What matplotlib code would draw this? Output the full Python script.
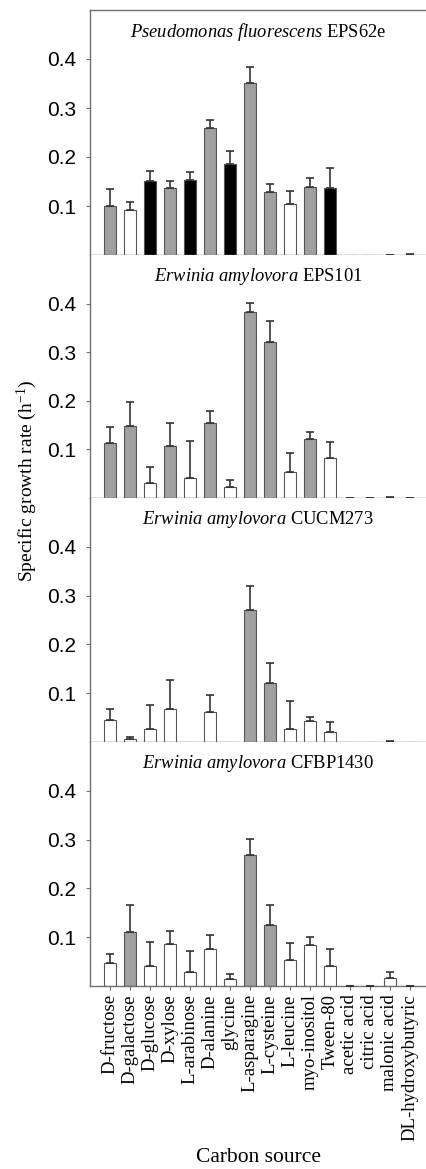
import matplotlib
matplotlib.use('Agg')
import matplotlib.pyplot as plt

plt.rcParams['mathtext.fontset'] = 'custom'
plt.rcParams['mathtext.rm'] = 'Liberation Serif'
plt.rcParams['mathtext.it'] = 'Liberation Serif:italic'

sources = ['D-fructose', 'D-galactose', 'D-glucose', 'D-xylose', 'L-arabinose',
           'D-alanine', 'glycine', 'L-asparagine', 'L-cysteine', 'L-leucine',
           'myo-inositol', 'Tween-80', 'acetic acid', 'citric acid',
           'malonic acid', 'DL-hydroxybutyric']

titles = [r'$\it{Pseudomonas\ fluorescens}$ EPS62e',
          r'$\it{Erwinia\ amylovora}$ EPS101',
          r'$\it{Erwinia\ amylovora}$ CUCM273',
          r'$\it{Erwinia\ amylovora}$ CFBP1430']

# growth rates (h^-1)
eps62e = [0.100, 0.091, 0.151, 0.137, 0.153, 0.260, 0.186, 0.351, 0.128, 0.105,
          0.138, 0.137, 0.0, 0.0, 0.0, 0.0]
eps62e_err = [0.035, 0.018, 0.020, 0.014, 0.017, 0.016, 0.027, 0.032, 0.017, 0.026,
              0.019, 0.040, 0.0, 0.0, 0.001, 0.002]
eps62e_cls = ['g', 'w', 'k', 'g', 'k', 'g', 'k', 'g', 'g', 'w', 'g', 'k', 'w', 'w', 'w', 'w']

eps101 = [0.113, 0.148, 0.031, 0.107, 0.041, 0.154, 0.023, 0.383, 0.320, 0.054,
          0.122, 0.082, 0.0, 0.0, 0.0, 0.0]
eps101_err = [0.034, 0.049, 0.033, 0.048, 0.077, 0.026, 0.015, 0.018, 0.044, 0.038,
              0.013, 0.033, 0.001, 0.001, 0.002, 0.001]
eps101_cls = ['g', 'g', 'w', 'g', 'w', 'g', 'w', 'g', 'g', 'w', 'g', 'w', 'w', 'w', 'w', 'w']

cucm273 = [0.046, 0.006, 0.027, 0.067, 0.0, 0.061, 0.0, 0.270, 0.121, 0.027,
           0.044, 0.020, 0.0, 0.0, 0.0, 0.0]
cucm273_err = [0.022, 0.004, 0.048, 0.060, 0.0, 0.035, 0.0, 0.050, 0.040, 0.056,
               0.008, 0.022, 0.0, 0.0, 0.002, 0.0]
cucm273_cls = ['w', 'w', 'w', 'w', 'w', 'w', 'w', 'g', 'g', 'w', 'w', 'w', 'w', 'w', 'w', 'w']

cfbp1430 = [0.048, 0.111, 0.040, 0.087, 0.029, 0.075, 0.014, 0.268, 0.126, 0.054,
            0.083, 0.040, 0.0, 0.0, 0.016, 0.0]
cfbp1430_err = [0.018, 0.054, 0.051, 0.025, 0.043, 0.029, 0.011, 0.034, 0.040, 0.034,
                0.017, 0.036, 0.001, 0.001, 0.012, 0.001]
cfbp1430_cls = ['w', 'g', 'w', 'w', 'w', 'w', 'w', 'g', 'g', 'w', 'w', 'w', 'w', 'w', 'w', 'w']

panels = [(eps62e, eps62e_err, eps62e_cls),
          (eps101, eps101_err, eps101_cls),
          (cucm273, cucm273_err, cucm273_cls),
          (cfbp1430, cfbp1430_err, cfbp1430_cls)]

colors = {'g': '#a0a0a0', 'w': 'white', 'k': 'black'}
spine_c = '#707070'

fig = plt.figure(figsize=(4.26, 11.69), dpi=100)
W, H = 426, 1169
left, right = 90, 426
tops = [10, 255, 498, 742]
bottoms = [255, 498, 742, 986]

x = list(range(len(sources)))
for i, (vals, errs, cls) in enumerate(panels):
    ax = fig.add_axes([left / W, 1 - bottoms[i] / H, (right - left) / W,
                       (bottoms[i] - tops[i]) / H])
    ax.bar(x, vals, width=0.6, color=[colors[c] for c in cls],
           edgecolor='#555555', linewidth=0.8, zorder=2)
    for xi, v, e in zip(x, vals, errs):
        if e > 0:
            ax.errorbar(xi, v, yerr=[[0], [e]], fmt='none', ecolor='#333333',
                        elinewidth=1.2, capsize=3, capthick=1.2, zorder=3)
    ax.set_xlim(-1, 15.8)
    ax.set_ylim(0, 0.5)
    ax.set_yticks([0.1, 0.2, 0.3, 0.4])
    ax.set_yticklabels(['0.1', '0.2', '0.3', '0.4'], family='Liberation Sans',
                       fontsize=15)
    ax.set_xticks(x)
    ax.tick_params(axis='both', direction='out', length=3, width=0.8,
                   color=spine_c, pad=3)
    ax.tick_params(axis='y', pad=7)
    ax.spines['right'].set_visible(False)
    ax.spines['top'].set_visible(i == 0)
    for s in ax.spines.values():
        s.set_color(spine_c)
        s.set_linewidth(1.0)
    ax.text(0.5, 0.91, titles[i], transform=ax.transAxes,
            ha='center', va='center', fontsize=13.3, family='Liberation Serif')
    if i < 3:
        ax.set_xticklabels([])
    else:
        ax.set_xticklabels(sources, rotation=90, family='Liberation Serif',
                           fontsize=13.5)

fig.text(27 / W, 1 - 481 / H, r'Specific growth rate (h$^{-1}$)', rotation=90,
         ha='center', va='center', fontsize=14, family='Liberation Serif')
fig.text(258 / W, 1 - 1158 / H, 'Carbon source', ha='center', va='center',
         fontsize=15.5, family='Liberation Serif')

fig.savefig('out.png', dpi=100)
